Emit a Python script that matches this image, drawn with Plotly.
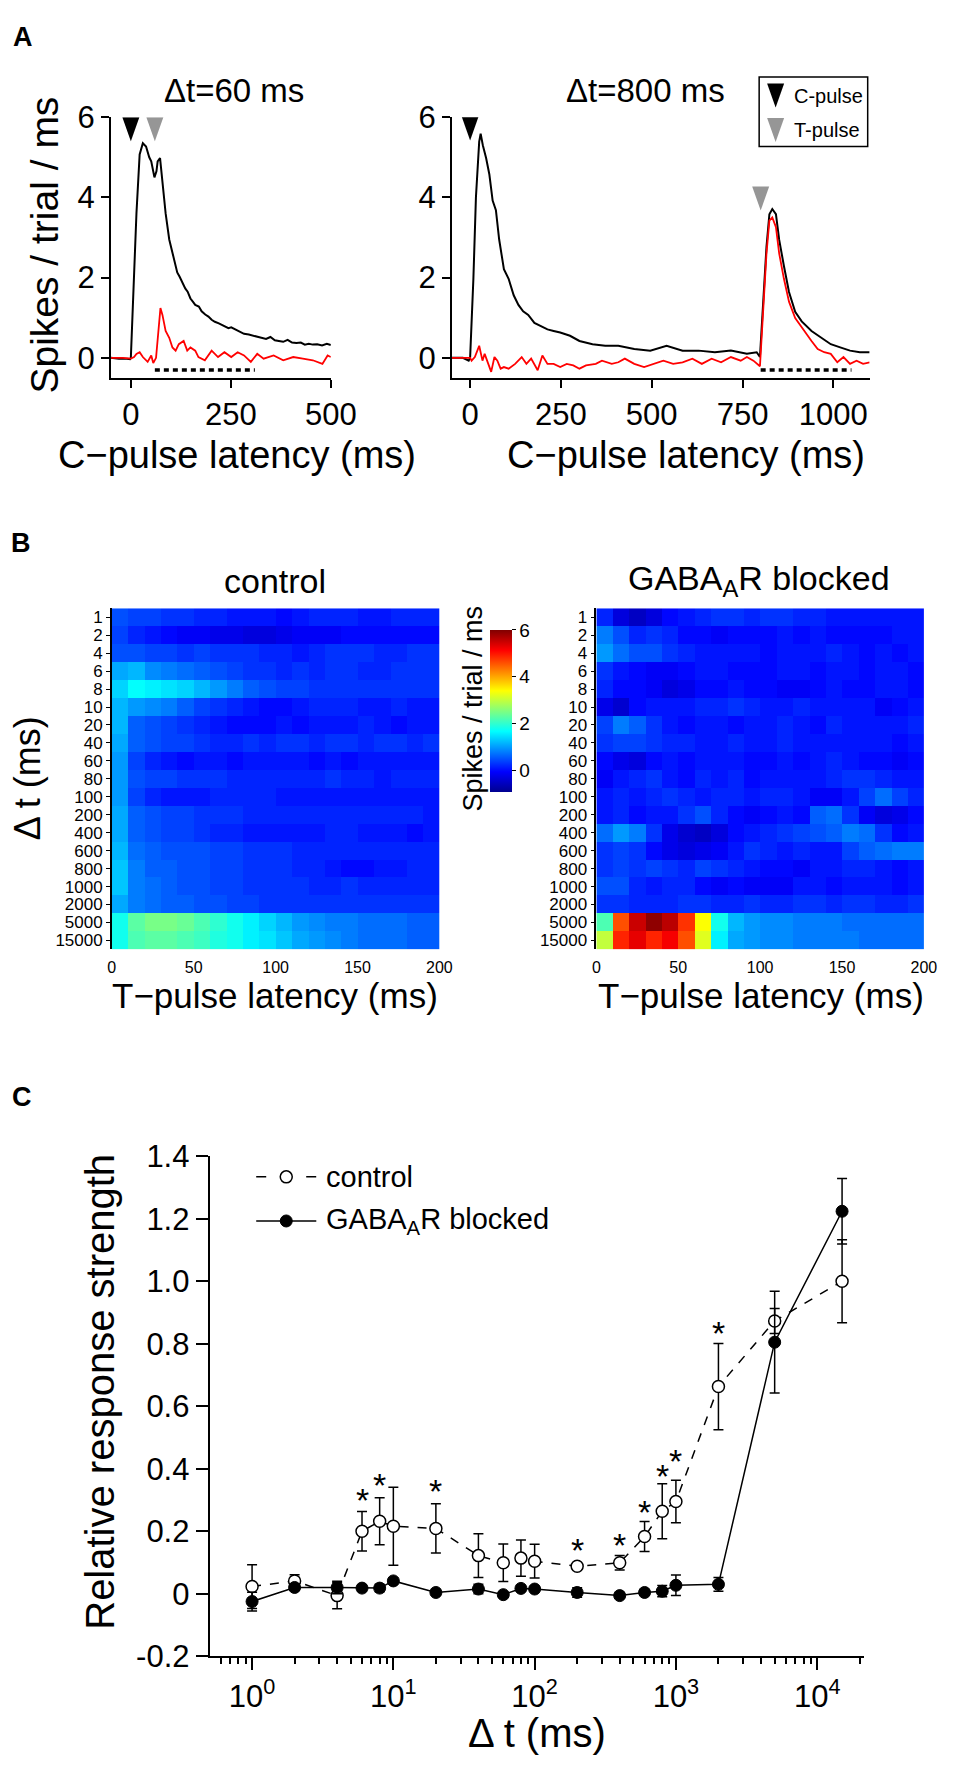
import math
import plotly.graph_objects as go

W, H = 970, 1777
OFF = 8  # default page body margin of the html page
FONT = "Liberation Sans, Arial, Helvetica, sans-serif"

# ---------------- Panel A data ----------------
left_black_t = [-50, -30, -10, -2, 0, 6, 14, 22, 30, 38, 46, 51, 59, 64, 67, 73, 79, 87, 96, 104, 110, 116, 122,
                128, 136, 142, 149, 155, 161, 170, 177, 186, 194, 202, 210, 220, 234, 244, 251, 262, 272, 283,
                295, 305, 316, 328, 338, 349, 360, 370, 381, 392, 403, 414, 425, 435, 445, 455, 466, 478, 490, 500]
left_black_y = [0.0, -0.02, -0.02, -0.03, 0.0, 1.6, 3.6, 5.07, 5.35, 5.27, 5.0, 4.9, 4.5, 4.65, 4.9, 4.98, 4.4,
                3.6, 2.95, 2.62, 2.4, 2.13, 2.02, 1.89, 1.73, 1.65, 1.48, 1.4, 1.32, 1.28, 1.16, 1.08, 1.03, 0.95,
                0.9, 0.86, 0.8, 0.74, 0.76, 0.7, 0.66, 0.6, 0.58, 0.55, 0.52, 0.5, 0.47, 0.52, 0.44, 0.42, 0.4,
                0.45, 0.38, 0.37, 0.38, 0.33, 0.35, 0.33, 0.34, 0.31, 0.35, 0.32]
left_red_t = [-50, -20, 0, 8, 14, 22, 30, 42, 51, 56, 63, 69, 74, 79, 87, 96, 104, 112, 120, 132, 141, 149, 161,
              169, 185, 202, 218, 234, 251, 267, 283, 300, 316, 332, 357, 381, 406, 430, 455, 479, 492, 500]
left_red_y = [0.0, 0.0, -0.02, 0.02, 0.1, 0.14, 0.02, -0.1, 0.06, -0.13, 0.0, 0.67, 1.24, 1.07, 0.67, 0.5, 0.26,
              0.18, 0.34, 0.42, 0.18, 0.26, 0.18, 0.02, -0.06, 0.18, 0.02, 0.14, 0.02, 0.14, 0.06, -0.1, 0.1,
              -0.02, 0.06, -0.06, 0.02, -0.02, -0.06, -0.15, 0.06, 0.02]

right_black_t = [-50, -20, -4, 0, 9, 16, 25, 29, 35, 44, 53, 62, 71, 80, 93, 106, 120, 133, 146, 160, 177, 195,
                 213, 230, 248, 275, 301, 337, 372, 408, 452, 496, 541, 585, 629, 674, 718, 762, 789, 798, 807,
                 816, 824, 832, 842, 851, 864, 878, 895, 913, 940, 966, 993, 1019, 1046, 1073, 1100]
right_black_y = [0.0, 0.0, -0.07, 0.0, 1.97, 4.0, 5.39, 5.59, 5.3, 4.98, 4.57, 3.92, 3.68, 2.95, 2.21, 1.97,
                 1.56, 1.32, 1.16, 1.07, 0.87, 0.79, 0.71, 0.67, 0.63, 0.55, 0.42, 0.34, 0.3, 0.3, 0.22, 0.18,
                 0.3, 0.18, 0.18, 0.14, 0.18, 0.1, 0.14, 0.02, 1.56, 2.77, 3.58, 3.71, 3.58, 2.94, 2.29, 1.64,
                 1.15, 0.91, 0.67, 0.5, 0.34, 0.26, 0.18, 0.14, 0.14]
right_red_t = [-50, -20, 0, 4, 13, 25, 34, 40, 49, 58, 67, 75, 84, 93, 106, 124, 142, 155, 168, 186, 199, 213,
               230, 248, 266, 284, 301, 319, 346, 363, 390, 408, 426, 452, 479, 505, 532, 559, 585, 612, 638,
               665, 691, 718, 745, 762, 780, 798, 807, 816, 824, 832, 842, 851, 864, 878, 895, 913, 940, 957,
               975, 993, 1011, 1028, 1046, 1064, 1082, 1100]
right_red_y = [0.0, 0.0, 0.0, -0.07, 0.02, 0.3, -0.07, 0.1, -0.15, -0.35, 0.02, -0.07, -0.27, -0.23, -0.27,
               -0.15, 0.02, -0.15, -0.02, -0.31, 0.06, -0.15, -0.15, -0.23, -0.15, -0.19, -0.27, -0.19, -0.15,
               -0.07, -0.15, -0.11, -0.02, -0.15, -0.23, -0.15, -0.07, -0.15, -0.11, -0.02, -0.15, -0.02,
               -0.11, 0.02, -0.07, 0.02, -0.07, -0.21, 1.15, 2.6, 3.42, 3.5, 3.26, 2.6, 1.97, 1.4, 0.99, 0.75,
               0.42, 0.22, 0.14, 0.1, -0.11, 0.02, -0.15, -0.07, -0.15, -0.11]

left_window = [60, 310]
right_window = [800, 1050]
window_y = -0.3
left_cpulse, left_tpulse = 0, 60
right_cpulse, right_tpulse = 0, 800
left_arrow_y = 5.7
right_c_arrow_y = 5.72
right_t_arrow_y = 3.97

# ---------------- Panel B data ----------------
dt_rows = ["1", "2", "4", "6", "8", "10", "20", "40", "60", "80", "100", "200", "400", "600", "800",
           "1000", "2000", "5000", "15000"]
t_bins = [5, 15, 25, 35, 45, 55, 65, 75, 85, 95, 105, 115, 125, 135, 145, 155, 165, 175, 185, 195]

z_control = [
    [0.5, 0.4, 0.4, 0.3, 0.3, 0.2, 0.2, 0.1, 0.1, 0.1, 0.0, 0.1, 0.2, 0.2, 0.2, 0.1, 0.1, 0.2, 0.2, 0.2],
    [0.4, 0.2, 0.1, 0.0, -0.1, -0.1, -0.2, -0.2, -0.3, -0.3, -0.2, -0.1, -0.1, -0.1, 0.0, 0.0, 0.0, 0.0, 0.0, 0.0],
    [0.5, 0.5, 0.4, 0.4, 0.3, 0.4, 0.3, 0.3, 0.3, 0.2, 0.2, 0.1, 0.2, 0.3, 0.3, 0.3, 0.2, 0.2, 0.3, 0.3],
    [1.1, 1.2, 0.9, 0.8, 0.7, 0.6, 0.5, 0.4, 0.3, 0.3, 0.2, 0.3, 0.2, 0.3, 0.3, 0.2, 0.2, 0.3, 0.3, 0.3],
    [1.4, 1.7, 1.6, 1.5, 1.4, 1.2, 1.0, 0.8, 0.6, 0.5, 0.4, 0.4, 0.3, 0.3, 0.3, 0.3, 0.3, 0.3, 0.3, 0.3],
    [1.2, 1.0, 0.9, 0.8, 0.6, 0.4, 0.3, 0.2, 0.1, 0.0, 0.0, 0.1, 0.2, 0.2, 0.2, 0.1, 0.1, 0.2, 0.1, 0.1],
    [1.2, 0.6, 0.5, 0.4, 0.3, 0.2, 0.1, 0.0, 0.0, 0.0, 0.1, 0.0, 0.1, 0.1, 0.1, 0.2, 0.1, 0.0, 0.1, 0.1],
    [1.1, 0.6, 0.5, 0.4, 0.4, 0.3, 0.2, 0.2, 0.3, 0.2, 0.3, 0.3, 0.2, 0.3, 0.3, 0.2, 0.3, 0.3, 0.2, 0.3],
    [1.0, 0.4, 0.2, 0.1, 0.0, 0.1, 0.1, 0.0, 0.1, 0.1, 0.1, 0.1, 0.0, 0.1, 0.0, 0.1, 0.1, 0.1, 0.1, 0.1],
    [1.0, 0.5, 0.4, 0.4, 0.3, 0.3, 0.3, 0.2, 0.2, 0.2, 0.2, 0.2, 0.2, 0.3, 0.2, 0.2, 0.1, 0.2, 0.2, 0.2],
    [1.0, 0.4, 0.2, 0.1, 0.1, 0.1, 0.2, 0.2, 0.2, 0.2, 0.1, 0.1, 0.1, 0.1, 0.1, 0.1, 0.1, 0.1, 0.1, 0.1],
    [1.1, 0.6, 0.5, 0.4, 0.4, 0.3, 0.3, 0.3, 0.2, 0.2, 0.2, 0.2, 0.2, 0.2, 0.2, 0.2, 0.2, 0.2, 0.2, 0.1],
    [1.1, 0.6, 0.5, 0.4, 0.4, 0.3, 0.2, 0.2, 0.1, 0.1, 0.1, 0.1, 0.1, 0.2, 0.2, 0.1, 0.1, 0.1, 0.0, 0.1],
    [1.2, 0.7, 0.6, 0.5, 0.5, 0.5, 0.4, 0.4, 0.3, 0.3, 0.3, 0.2, 0.2, 0.2, 0.2, 0.2, 0.2, 0.2, 0.2, 0.2],
    [1.3, 0.8, 0.6, 0.6, 0.5, 0.5, 0.4, 0.4, 0.3, 0.3, 0.3, 0.2, 0.2, 0.1, 0.0, 0.0, 0.1, 0.1, 0.2, 0.2],
    [1.3, 0.8, 0.7, 0.6, 0.5, 0.5, 0.4, 0.4, 0.3, 0.3, 0.3, 0.3, 0.2, 0.2, 0.3, 0.2, 0.2, 0.2, 0.2, 0.2],
    [1.1, 0.8, 0.7, 0.6, 0.6, 0.5, 0.5, 0.4, 0.4, 0.3, 0.3, 0.3, 0.3, 0.3, 0.3, 0.3, 0.3, 0.3, 0.3, 0.3],
    [1.8, 2.3, 2.5, 2.5, 2.4, 2.2, 2.0, 1.8, 1.6, 1.4, 1.2, 1.0, 0.9, 0.8, 0.8, 0.7, 0.7, 0.7, 0.6, 0.6],
    [1.8, 2.2, 2.3, 2.3, 2.2, 2.1, 1.9, 1.8, 1.6, 1.5, 1.3, 1.1, 1.0, 0.9, 0.8, 0.7, 0.7, 0.7, 0.6, 0.6],
]

z_blocked = [
    [0.2, -0.3, -0.5, -0.3, 0.0, 0.1, 0.2, 0.3, 0.3, 0.2, 0.3, 0.3, 0.2, 0.2, 0.1, 0.1, 0.1, 0.1, 0.1, 0.1],
    [0.8, 0.5, 0.2, 0.3, 0.2, 0.0, 0.0, -0.1, 0.0, 0.0, 0.0, 0.1, 0.0, 0.1, 0.0, 0.0, 0.0, 0.0, 0.1, 0.1],
    [1.0, 0.7, 0.5, 0.5, 0.3, 0.2, 0.1, 0.1, 0.1, 0.1, 0.0, 0.1, 0.1, 0.1, 0.2, 0.1, 0.0, 0.1, 0.0, 0.1],
    [0.3, 0.1, 0.0, -0.1, -0.1, 0.0, 0.1, 0.1, 0.0, 0.0, 0.0, 0.1, 0.1, 0.0, 0.1, 0.1, 0.0, 0.1, 0.1, 0.0],
    [0.2, 0.0, 0.0, -0.1, -0.3, -0.2, 0.0, 0.0, 0.1, 0.0, 0.0, -0.1, -0.1, 0.0, 0.1, 0.0, 0.0, 0.1, 0.1, 0.0],
    [-0.2, -0.4, 0.0, 0.1, 0.1, 0.1, 0.2, 0.2, 0.3, 0.2, 0.1, 0.1, 0.2, 0.1, 0.1, 0.1, 0.1, -0.1, 0.0, 0.1],
    [0.4, 0.8, 0.6, 0.3, 0.1, 0.0, 0.1, 0.1, 0.0, 0.1, 0.1, 0.2, 0.1, 0.0, 0.2, 0.1, 0.1, 0.1, 0.1, 0.2],
    [0.3, 0.4, 0.4, 0.3, 0.2, 0.2, 0.1, 0.1, 0.2, 0.1, 0.1, 0.2, 0.1, 0.1, 0.1, 0.1, 0.1, 0.1, 0.0, 0.1],
    [0.0, -0.2, -0.3, 0.0, 0.1, 0.0, 0.1, 0.1, 0.1, 0.0, 0.0, 0.1, 0.0, 0.1, 0.2, 0.1, 0.0, 0.0, -0.1, 0.0],
    [-0.1, 0.1, 0.2, 0.3, 0.1, 0.0, 0.2, 0.1, 0.2, 0.0, 0.1, 0.1, 0.1, 0.1, 0.2, 0.3, 0.3, 0.2, 0.1, 0.1],
    [0.1, 0.2, 0.1, 0.2, 0.3, 0.2, 0.1, 0.2, 0.2, 0.1, 0.2, 0.2, 0.1, -0.1, -0.1, 0.1, 0.4, 0.7, 0.4, 0.2],
    [0.1, 0.2, 0.0, 0.1, 0.1, 0.3, 0.5, 0.2, 0.0, -0.1, 0.0, 0.1, 0.0, 0.6, 0.7, 0.3, -0.1, -0.3, -0.2, 0.0],
    [0.7, 1.0, 0.8, 0.3, -0.2, -0.4, -0.5, -0.3, 0.0, 0.1, 0.2, 0.3, 0.4, 0.5, 0.6, 0.8, 0.7, 0.3, 0.0, 0.1],
    [0.3, 0.4, 0.3, 0.0, -0.2, -0.3, -0.2, -0.1, 0.1, 0.3, 0.2, 0.1, 0.2, 0.1, 0.1, 0.4, 0.6, 0.7, 0.8, 0.8],
    [0.3, 0.4, 0.3, 0.4, 0.3, 0.2, 0.4, 0.3, 0.2, 0.1, 0.0, 0.0, -0.1, 0.1, 0.1, 0.2, 0.2, 0.1, 0.0, 0.1],
    [0.5, 0.5, 0.2, 0.1, 0.2, 0.2, 0.0, -0.1, 0.0, -0.1, -0.1, -0.1, 0.1, 0.1, 0.0, 0.1, 0.1, 0.1, 0.0, 0.1],
    [0.3, 0.3, 0.2, 0.2, 0.2, 0.3, 0.3, 0.2, 0.2, 0.3, 0.2, 0.2, 0.3, 0.3, 0.2, 0.3, 0.3, 0.2, 0.2, 0.3],
    [2.2, 4.6, 5.5, 5.9, 5.6, 4.8, 3.4, 1.8, 1.2, 1.0, 0.9, 0.9, 0.8, 0.8, 0.8, 0.7, 0.7, 0.7, 0.7, 0.7],
    [3.0, 4.9, 5.3, 4.9, 5.2, 4.6, 3.2, 1.6, 1.1, 1.0, 0.9, 0.9, 0.8, 0.8, 0.8, 0.8, 0.7, 0.7, 0.7, 0.7],
]

# ---------------- Panel C data ----------------
dt_vals = [1, 2, 4, 6, 8, 10, 20, 40, 60, 80, 100, 200, 400, 600, 800, 1000, 2000, 5000, 15000]
ctrl_y = [0.023, 0.041, -0.006, 0.200, 0.232, 0.216, 0.209, 0.122, 0.099, 0.114, 0.104, 0.088, 0.099, 0.183,
          0.264, 0.295, 0.663, 0.873, 1.000]
ctrl_err = [0.07, 0.02, 0.042, 0.063, 0.075, 0.125, 0.079, 0.07, 0.06, 0.058, 0.054, 0.01, 0.023, 0.048,
            0.088, 0.068, 0.138, 0.04, 0.133]
gaba_y = [-0.025, 0.020, 0.020, 0.018, 0.018, 0.041, 0.004, 0.015, -0.003, 0.017, 0.015, 0.004, -0.006,
          0.004, 0.008, 0.027, 0.030, 0.805, 1.224]
gaba_err = [0.03, 0.01, 0.02, 0.01, 0.012, 0.01, 0.008, 0.015, 0.008, 0.008, 0.008, 0.015, 0.008, 0.008,
            0.018, 0.033, 0.022, 0.163, 0.105]
star_dt = [6, 8, 20, 200, 400, 600, 800, 1000, 2000]
star_y = [0.324, 0.372, 0.353, 0.167, 0.183, 0.288, 0.403, 0.45, 0.86]
c_yticks = [-0.2, 0, 0.2, 0.4, 0.6, 0.8, 1.0, 1.2, 1.4]
c_yticklabels = ["-0.2", "0", "0.2", "0.4", "0.6", "0.8", "1.0", "1.2", "1.4"]
c_xticks = [1, 10, 100, 1000, 10000]
c_xticklabels = ["10<sup>0</sup>", "10<sup>1</sup>", "10<sup>2</sup>", "10<sup>3</sup>", "10<sup>4</sup>"]
c_minor = [0.5, 0.6, 0.7, 0.8, 0.9, 2, 3, 4, 5, 6, 7, 8, 9, 20, 30, 40, 50, 60, 70, 80, 90,
           200, 300, 400, 500, 600, 700, 800, 900, 2000, 3000, 4000, 5000, 6000, 7000, 8000, 9000, 20000]

JET = [[0.0, "rgb(0,0,143)"], [0.125, "rgb(0,0,255)"], [0.375, "rgb(0,255,255)"],
       [0.625, "rgb(255,255,0)"], [0.875, "rgb(255,0,0)"], [1.0, "rgb(128,0,0)"]]


def fx(p):
    return (p - OFF) / W


def fy(p):
    return 1 - (p - OFF) / H


fig = go.Figure()

# Panel A traces
fig.add_trace(go.Scatter(x=left_black_t, y=left_black_y, mode="lines", line=dict(color="black", width=2),
                         xaxis="x", yaxis="y", showlegend=False))
fig.add_trace(go.Scatter(x=left_red_t, y=left_red_y, mode="lines", line=dict(color="#ff0000", width=1.8),
                         xaxis="x", yaxis="y", showlegend=False))
fig.add_trace(go.Scatter(x=left_window, y=[window_y, window_y], mode="lines",
                         line=dict(color="black", width=3.5, dash="5px,4px"),
                         xaxis="x", yaxis="y", showlegend=False))
fig.add_trace(go.Scatter(x=right_black_t, y=right_black_y, mode="lines", line=dict(color="black", width=2),
                         xaxis="x2", yaxis="y2", showlegend=False))
fig.add_trace(go.Scatter(x=right_red_t, y=right_red_y, mode="lines", line=dict(color="#ff0000", width=1.8),
                         xaxis="x2", yaxis="y2", showlegend=False))
fig.add_trace(go.Scatter(x=right_window, y=[window_y, window_y], mode="lines",
                         line=dict(color="black", width=3.5, dash="5px,4px"),
                         xaxis="x2", yaxis="y2", showlegend=False))

# Panel B heatmaps
fig.add_trace(go.Heatmap(x=t_bins, y=dt_rows, z=z_control, coloraxis="coloraxis", xaxis="x3", yaxis="y3",
                         zsmooth=False, hoverinfo="skip"))
fig.add_trace(go.Heatmap(x=t_bins, y=dt_rows, z=z_blocked, coloraxis="coloraxis", xaxis="x4", yaxis="y4",
                         zsmooth=False, hoverinfo="skip"))

# Panel C traces
fig.add_trace(go.Scatter(x=dt_vals, y=ctrl_y, mode="lines+markers", name="control",
                         line=dict(color="black", width=1.5, dash="9px,9px"),
                         marker=dict(symbol="circle", size=12, color="white", line=dict(color="black", width=1.5)),
                         error_y=dict(type="data", array=ctrl_err, visible=True, thickness=1.5, width=5,
                                      color="black"),
                         xaxis="x5", yaxis="y5", showlegend=False))
fig.add_trace(go.Scatter(x=dt_vals, y=gaba_y, mode="lines+markers", name="GABAAR blocked",
                         line=dict(color="black", width=1.5),
                         marker=dict(symbol="circle", size=12, color="black", line=dict(color="black", width=1)),
                         error_y=dict(type="data", array=gaba_err, visible=True, thickness=1.5, width=5,
                                      color="black"),
                         xaxis="x5", yaxis="y5", showlegend=False))

axis_common = dict(showline=True, linewidth=2, linecolor="black", ticks="outside", tickwidth=2,
                   tickcolor="black", showgrid=False, zeroline=False, mirror=False,
                   tickfont=dict(size=31, color="black", family=FONT))

heat_y_common = dict(domain=[fy(951), fy(603)], type="category", autorange="reversed",
                     tickmode="array", tickvals=dt_rows, ticktext=dt_rows,
                     showline=True, linewidth=1.5, linecolor="black", ticks="outside", ticklen=4, tickwidth=1,
                     tickcolor="black", showgrid=False, zeroline=False,
                     tickfont=dict(size=17, color="black", family=FONT))
heat_x_common = dict(range=[0, 200], tickvals=[0, 50, 100, 150, 200], showline=False, showgrid=False,
                     zeroline=False, ticks="outside", ticklen=3, tickcolor="rgba(0,0,0,0)",
                     tickfont=dict(size=16, color="black", family=FONT))

layout = dict(
    width=W, height=H, margin=dict(l=0, r=0, t=0, b=0), autosize=False,
    paper_bgcolor="white", plot_bgcolor="white",
    font=dict(family=FONT, color="black"),
    showlegend=False,
    xaxis=dict(domain=[fx(110), fx(337)], range=[-50, 500], tickvals=[0, 250, 500], ticklen=8,
               anchor="y", **axis_common),
    yaxis=dict(domain=[fy(368), fy(102)], range=[-0.5, 6], tickvals=[0, 2, 4, 6], ticklen=8,
               anchor="x", **axis_common),
    xaxis2=dict(domain=[fx(462), fx(893)], range=[-50, 1100], tickvals=[0, 250, 500, 750, 1000], ticklen=8,
                anchor="y2", **axis_common),
    yaxis2=dict(domain=[fy(368), fy(102)], range=[-0.5, 6], tickvals=[0, 2, 4, 6], ticklen=8,
                anchor="x2", **axis_common),
    xaxis3=dict(domain=[fx(111), fx(449)], anchor="y3", **heat_x_common),
    yaxis3=dict(anchor="x3", **heat_y_common),
    xaxis4=dict(domain=[fx(611), fx(949)], anchor="y4", **heat_x_common),
    yaxis4=dict(anchor="x4", **heat_y_common),
    xaxis5=dict(domain=[fx(212), fx(887)], type="log", range=[-0.3, 4.33], tickvals=c_xticks,
                ticktext=c_xticklabels, ticklen=12, anchor="y5",
                minor=dict(tickmode="array", tickvals=c_minor, ticks="outside", ticklen=6, tickwidth=2,
                           tickcolor="black", showgrid=False),
                **axis_common),
    yaxis5=dict(domain=[fy(1672), fy(1162)], range=[-0.2, 1.4], tickvals=c_yticks, ticktext=c_yticklabels,
                ticklen=12, anchor="x5", **axis_common),
    coloraxis=dict(cmin=-0.9, cmax=6, colorscale=JET,
                   colorbar=dict(x=fx(501), xanchor="left", y=fy(625), yanchor="top", len=165 / H,
                                 lenmode="fraction", thickness=22, thicknessmode="pixels", outlinewidth=0,
                                 tickvals=[0, 2, 4, 6], ticks="outside", ticklen=4, tickcolor="black",
                                 tickfont=dict(size=19, color="black", family=FONT), xpad=0, ypad=0)),
)
fig.update_layout(**layout)

ann = []


def add_text(text, x, y, size, angle=0, xanchor="center", bold=False):
    ann.append(dict(text=("<b>%s</b>" % text) if bold else text, x=fx(x), y=fy(y), xref="paper", yref="paper",
                    showarrow=False, xanchor=xanchor, yanchor="middle", textangle=angle,
                    font=dict(size=size, color="black", family=FONT)))


add_text("A", 19, 20, 27, bold=True)
add_text("B", 17, 536, 27, bold=True)
add_text("C", 18, 1102, 27, bold=True)
add_text("\u0394t=60 ms", 237, 75, 33)
add_text("\u0394t=800 ms", 662, 75, 33)
add_text("Spikes / trial / ms", 42, 232, 39, angle=-90)
add_text("C\u2212pulse latency (ms)", 240, 447, 38)
add_text("C\u2212pulse latency (ms)", 704, 447, 38)
add_text("C-pulse", 813, 80, 20, xanchor="left")
add_text("T-pulse", 813, 115, 20, xanchor="left")
add_text("control", 279, 575, 34)
add_text("GABA<sub>A</sub>R blocked", 779, 575, 34)
add_text("\u0394 t (ms)", 24, 777, 36, angle=-90)
add_text("Spikes / trial / ms", 484, 705, 27, angle=-90)
add_text("T\u2212pulse latency (ms)", 279, 998, 35)
add_text("T\u2212pulse latency (ms)", 781, 998, 35)
add_text("Relative response strength", 98, 1402, 40, angle=-90)
add_text("\u0394 t (ms)", 550, 1750, 40)
add_text("control", 330, 1183, 29, xanchor="left")
add_text("GABA<sub>A</sub>R blocked", 330, 1228, 29, xanchor="left")

for sx, sy in zip(star_dt, star_y):
    ann.append(dict(text="*", x=math.log10(sx), y=sy, xref="x5", yref="y5", showarrow=False,
                    xanchor="center", yanchor="middle", yshift=-8,
                    font=dict(size=34, color="black", family=FONT)))

fig.update_layout(annotations=ann)

shapes = []
TRI = "M -8.5,12 L 8.5,12 L 0,-12 Z"


def tri(xref, yref, xa, ya, color):
    shapes.append(dict(type="path", xref=xref, yref=yref, xsizemode="pixel", ysizemode="pixel",
                       xanchor=xa, yanchor=ya, path=TRI, fillcolor=color, line=dict(width=0)))


tri("x", "y", left_cpulse, left_arrow_y, "black")
tri("x", "y", left_tpulse, left_arrow_y, "rgb(150,150,150)")
tri("x2", "y2", right_cpulse, right_c_arrow_y, "black")
tri("x2", "y2", right_tpulse, right_t_arrow_y, "rgb(150,150,150)")
# legend box of panel A
shapes.append(dict(type="rect", xref="paper", yref="paper", x0=fx(779), x1=fx(891), y0=fy(132), y1=fy(61),
                   line=dict(color="black", width=1.5), fillcolor="rgba(0,0,0,0)"))
tri("paper", "paper", fx(796), fy(80), "black")
tri("paper", "paper", fx(796), fy(115), "rgb(150,150,150)")
# legend of panel C
shapes.append(dict(type="line", xref="paper", yref="paper", x0=fx(260), x1=fx(322), y0=fy(1183), y1=fy(1183),
                   line=dict(color="black", width=1.5, dash="10px,15px")))
shapes.append(dict(type="line", xref="paper", yref="paper", x0=fx(260), x1=fx(322), y0=fy(1228), y1=fy(1228),
                   line=dict(color="black", width=1.5)))
shapes.append(dict(type="circle", xref="paper", yref="paper", xsizemode="pixel", ysizemode="pixel",
                   xanchor=fx(291), yanchor=fy(1183), x0=-6, x1=6, y0=-6, y1=6,
                   fillcolor="white", line=dict(color="black", width=1.5)))
shapes.append(dict(type="circle", xref="paper", yref="paper", xsizemode="pixel", ysizemode="pixel",
                   xanchor=fx(291), yanchor=fy(1228), x0=-6, x1=6, y0=-6, y1=6,
                   fillcolor="black", line=dict(color="black", width=1)))
fig.update_layout(shapes=shapes)

fig.write_html("out.html")
